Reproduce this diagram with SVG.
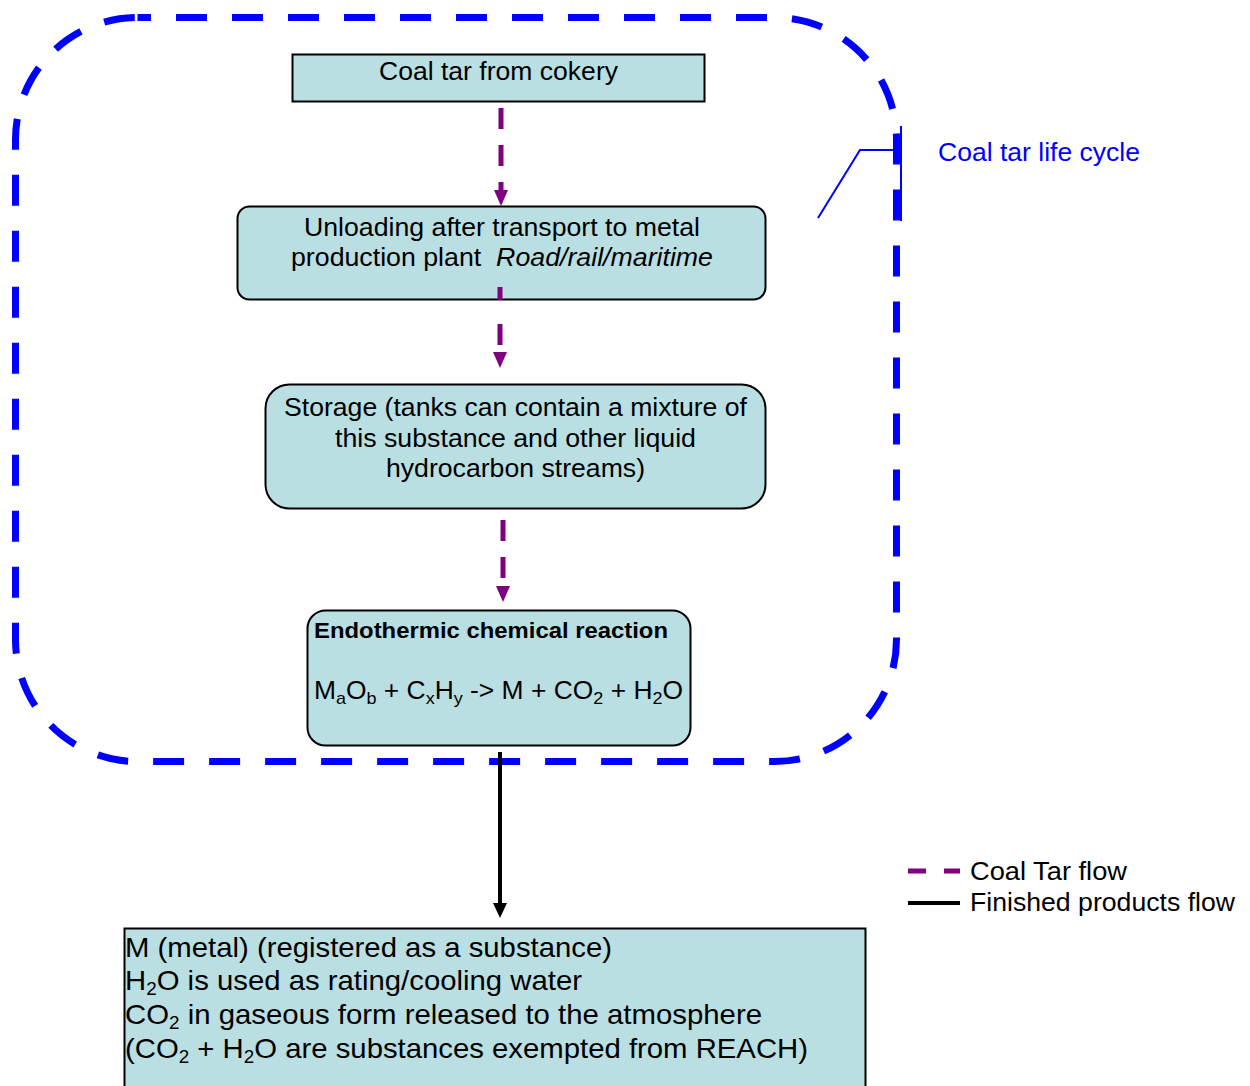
<svg xmlns="http://www.w3.org/2000/svg" width="1250" height="1086" viewBox="0 0 1250 1086">
<defs>
<style>
.box{fill:#b9dfe2;stroke:#000;stroke-width:2}
.t{font-family:"Liberation Sans",Arial,sans-serif;font-size:25px;fill:#000}
.c{text-anchor:middle}
.sub{font-size:17px}
.tar{stroke:#800080;stroke-width:5;stroke-dasharray:21 16;fill:none}
.fin{stroke:#000;stroke-width:4;fill:none}
</style>
</defs>
<rect width="1250" height="1086" fill="#fff"/>
<g id="lifecycle">
<rect x="15.5" y="17.5" width="881" height="744" rx="122" ry="122" fill="none" stroke="#0000ff" stroke-width="7" stroke-dasharray="31 25" stroke-dashoffset="17.5"/>
<polyline points="818,218 860,150 895,150" fill="none" stroke="#0000ff" stroke-width="2"/>
<line x1="901" y1="126" x2="901" y2="221" stroke="#0000ff" stroke-width="2"/>
<text x="938" y="161" class="t" style="fill:#0000ff" textLength="202" lengthAdjust="spacingAndGlyphs">Coal tar life cycle</text>
</g>
<g id="n1">
<rect x="292.5" y="54.5" width="412" height="47" class="box"/>
<text x="498.5" y="80" class="t c" textLength="239" lengthAdjust="spacingAndGlyphs">Coal tar from cokery</text>
</g>
<g id="n2">
<rect x="237.5" y="206.5" width="528" height="93" rx="12" class="box"/>
<text x="502" y="236" class="t c" textLength="396" lengthAdjust="spacingAndGlyphs">Unloading after transport to metal</text>
<text x="502" y="266" class="t c" textLength="422" lengthAdjust="spacingAndGlyphs">production plant <tspan dx="7" font-style="italic">Road/rail/maritime</tspan></text>
</g>
<g id="n3">
<rect x="265.5" y="384.5" width="500" height="124" rx="24" class="box"/>
<text x="515.5" y="416" class="t c" textLength="463" lengthAdjust="spacingAndGlyphs">Storage (tanks can contain a mixture of</text>
<text x="515.5" y="447" class="t c" textLength="361" lengthAdjust="spacingAndGlyphs">this substance and other liquid</text>
<text x="515.5" y="477" class="t c" textLength="259" lengthAdjust="spacingAndGlyphs">hydrocarbon streams)</text>
</g>
<g id="n4">
<rect x="307.5" y="610.5" width="383" height="135" rx="18" class="box"/>
<text x="314" y="638" class="t" style="font-weight:bold;font-size:22.5px" textLength="354" lengthAdjust="spacingAndGlyphs">Endothermic chemical reaction</text>
<text x="314" y="699" class="t" textLength="369" lengthAdjust="spacingAndGlyphs">M<tspan class="sub" dy="5">a</tspan><tspan dy="-5">O</tspan><tspan class="sub" dy="5">b</tspan><tspan dy="-5"> + C</tspan><tspan class="sub" dy="5">x</tspan><tspan dy="-5">H</tspan><tspan class="sub" dy="5">y</tspan><tspan dy="-5"> -&gt; M + CO</tspan><tspan class="sub" dy="5">2</tspan><tspan dy="-5"> + H</tspan><tspan class="sub" dy="5">2</tspan><tspan dy="-5">O</tspan></text>
</g>
<g id="n5">
<rect x="124.5" y="928.5" width="741" height="170" class="box"/>
<g class="t" style="font-size:28px">
<text x="125" y="957" textLength="487" lengthAdjust="spacingAndGlyphs">M (metal) (registered as a substance)</text>
<text x="125" y="990" textLength="457" lengthAdjust="spacingAndGlyphs">H<tspan style="font-size:18px" dy="5">2</tspan><tspan dy="-5">O is used as rating/cooling water</tspan></text>
<text x="125" y="1024" textLength="637" lengthAdjust="spacingAndGlyphs">CO<tspan style="font-size:18px" dy="5">2</tspan><tspan dy="-5"> in gaseous form released to the atmosphere</tspan></text>
<text x="125" y="1058" textLength="683" lengthAdjust="spacingAndGlyphs">(CO<tspan style="font-size:18px" dy="5">2</tspan><tspan dy="-5"> + H</tspan><tspan style="font-size:18px" dy="5">2</tspan><tspan dy="-5">O are substances exempted from REACH)</tspan></text>
</g>
</g>
<g id="connectors">
<line x1="501" y1="108" x2="501" y2="191" class="tar"/>
<path d="M494,190 L508,190 L501,206 Z" fill="#800080"/>
<line x1="500" y1="287" x2="500" y2="353" class="tar" style="stroke-dasharray:13 24 21 16"/>
<path d="M493,352 L507,352 L500,368 Z" fill="#800080"/>
<line x1="503" y1="520" x2="503" y2="587" class="tar"/>
<path d="M496,586 L510,586 L503,602 Z" fill="#800080"/>
<line x1="500" y1="752" x2="500" y2="905" class="fin"/>
<path d="M493,903 L507,903 L500,918 Z" fill="#000"/>
</g>
<g id="legend">
<line x1="908" y1="871" x2="960" y2="871" stroke="#800080" stroke-width="5" stroke-dasharray="18 18"/>
<text x="970" y="880" class="t" textLength="157" lengthAdjust="spacingAndGlyphs">Coal Tar flow</text>
<line x1="908" y1="903" x2="960" y2="903" stroke="#000" stroke-width="4"/>
<text x="970" y="911" class="t" textLength="265" lengthAdjust="spacingAndGlyphs">Finished products flow</text>
</g>
</svg>
